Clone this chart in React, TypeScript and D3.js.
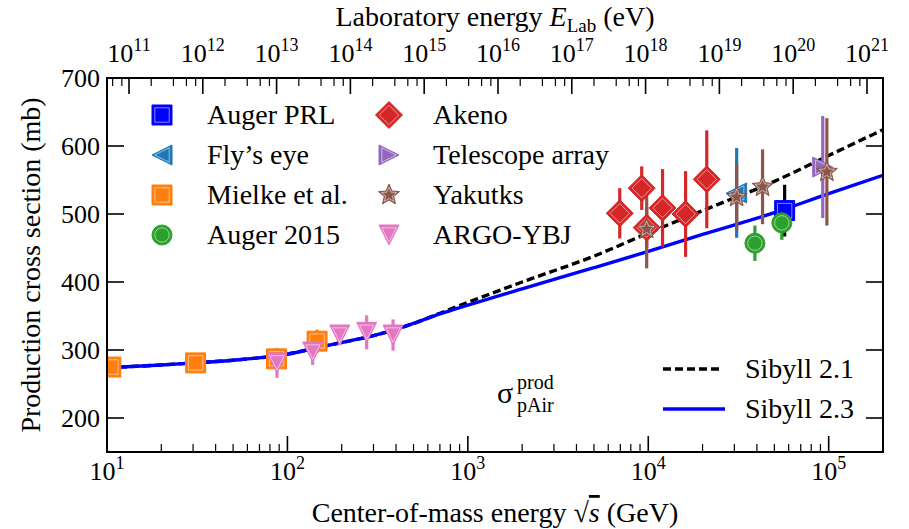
import React from 'react';
import * as d3 from 'd3';

// Sibyll model curves: sqrt(s) in GeV, production cross section in mb
const modelEnergy = [10, 20, 30, 50, 100, 150, 200, 300, 500, 700, 1000, 2000, 5000, 1e4, 2e4, 5e4, 1e5, 2e5];
const sibyll21 = [274, 278, 281, 285, 294, 304, 311, 321, 339, 354, 370, 400, 438, 472, 505, 548, 586, 624];
const sibyll23 = [274, 278, 281, 285, 294, 304, 311, 321, 339, 353, 366, 390, 421, 445, 470, 502, 530, 557];

// measurements: [sqrt(s) GeV, sigma mb, error mb]
const augerPRL = [[57000, 505, 38]];
const flysEye = [[30900, 531, 66]];
const mielke = [[10.5, 275, 5], [31, 281, 5], [87, 287, 5], [146, 313, 17]];
const auger2015 = [[39000, 457, 26], [55000, 487, 25]];
const akeno = [[6950, 501, 37], [9200, 538, 32], [9800, 480, 30], [12000, 509, 57], [16100, 500, 63], [21100, 551, 72]];
const telescopeArray = [[92700, 569, 75]];
const yakutsk = [[9800, 478, 58], [30900, 525, 49], [43000, 540, 55], [97700, 562, 79]];
const argoYBJ = [[87.5, 281, 22], [138, 297, 19], [195, 322, 15], [275, 326, 25], [385, 322, 23]];

const yTicks = [200, 300, 400, 500, 600, 700];
const bottomDecades = [1, 2, 3, 4, 5];
const topDecades = [11, 12, 13, 14, 15, 16, 17, 18, 19, 20, 21];

const W = 909;
const H = 529;
const M = { left: 107, right: 883, top: 78, bottom: 452 };
const FONT = "'Liberation Serif', 'DejaVu Serif', serif";

const series = [
  { name: 'Auger PRL', data: augerPRL, color: '#0000ff', bar: '#000000', shape: 'square', r: 10 },
  { name: 'Fly\u2019s eye', data: flysEye, color: '#1f77b4', bar: '#1f77b4', shape: 'tri-left', r: 10 },
  { name: 'Mielke et al.', data: mielke, color: '#ff7f0e', bar: '#ff7f0e', shape: 'square', r: 10 },
  { name: 'Auger 2015', data: auger2015, color: '#2ca02c', bar: '#2ca02c', shape: 'circle', r: 10 },
  { name: 'Akeno', data: akeno, color: '#d62728', bar: '#d62728', shape: 'diamond', r: 13.5 },
  { name: 'Telescope array', data: telescopeArray, color: '#9467bd', bar: '#9467bd', shape: 'tri-right', r: 10 },
  { name: 'Yakutks', data: yakutsk, color: '#8c564b', bar: '#8c564b', shape: 'star', r: 11 },
  { name: 'ARGO-YBJ', data: argoYBJ, color: '#e377c2', bar: '#e377c2', shape: 'tri-down', r: 10 },
];

function markerPath(shape: string, r: number): string {
  switch (shape) {
    case 'square':
      return `M${-r},${-r}H${r}V${r}H${-r}Z`;
    case 'diamond':
      return `M0,${-r}L${r},0L0,${r}L${-r},0Z`;
    case 'circle':
      return `M${r},0A${r},${r} 0 1,1 ${-r},0A${r},${r} 0 1,1 ${r},0Z`;
    case 'tri-down':
      return `M${-r},${-r}L${r},${-r}L0,${r}Z`;
    case 'tri-left':
      return `M${-r},0L${r},${-r}L${r},${r}Z`;
    case 'tri-right':
      return `M${r},0L${-r},${-r}L${-r},${r}Z`;
    case 'star': {
      const pts: string[] = [];
      for (let i = 0; i < 10; i++) {
        const a = -Math.PI / 2 + (i * Math.PI) / 5;
        const rr = i % 2 ? r * 0.45 : r;
        pts.push(`${(rr * Math.cos(a)).toFixed(2)},${(rr * Math.sin(a)).toFixed(2)}`);
      }
      return 'M' + pts.join('L') + 'Z';
    }
    default:
      return '';
  }
}

const Marker = ({ x, y, shape, r, color }: { x: number; y: number; shape: string; r: number; color: string }) => (
  <g transform={`translate(${x},${y})`}>
    <path d={markerPath(shape, r)} fill={color} stroke={color} strokeWidth={1} />
    <path d={markerPath(shape, r * 0.72)} fill="none" stroke="#fff" strokeWidth={0.7} strokeOpacity={0.75} />
  </g>
);

const Pow = ({ x, y, exp }: { x: number; y: number; exp: number }) => (
  <text x={x} y={y} textAnchor="middle" fontSize={26} style={{ fontFamily: FONT }} fill="#000">
    10<tspan fontSize={18} dy={-11}>{exp}</tspan>
  </text>
);

export default function App() {
  const x = d3.scaleLog().domain([10, 2e5]).range([M.left, M.right]);
  const y = d3.scaleLinear().domain([150, 700]).range([M.bottom, M.top]);
  const xTop = d3.scaleLog().domain([10 ** 10.702, 10 ** 21.217]).range([M.left, M.right]);

  const line = d3
    .line<number>()
    .x((_, i) => x(modelEnergy[i]))
    .y((d) => y(d))
    .curve(d3.curveMonotoneX);

  const bottomMinor: number[] = [];
  for (let d = 1; d <= 5; d++) for (let k = 2; k <= 9; k++) {
    const v = k * 10 ** d;
    if (v <= 2e5) bottomMinor.push(v);
  }
  const topMinor: number[] = [];
  for (let d = 10; d <= 21; d++) for (const k of [2, 4, 6, 8]) {
    const v = Math.log10(k) + d;
    if (v >= 10.702 && v <= 21.217) topMinor.push(v);
  }

  const legendRows = [115, 155, 195, 235];
  const txt = { fontFamily: FONT };

  return (
    <svg width={W} height={H} style={{ position: 'absolute', left: 0, top: 0, fontFamily: FONT }}>
      <rect width={W} height={H} fill="#fff" />
      <defs>
        <clipPath id="plot">
          <rect x={M.left} y={M.top} width={M.right - M.left} height={M.bottom - M.top} />
        </clipPath>
      </defs>

      {/* model lines */}
      <g clipPath="url(#plot)">
        <path d={line(sibyll21) || ''} fill="none" stroke="#000" strokeWidth={3.4} strokeDasharray="8,4" />
        <path d={line(sibyll23) || ''} fill="none" stroke="#0000ff" strokeWidth={3.4} />
      </g>

      {/* data */}
      <g clipPath="url(#plot)">
        {series.map((s) =>
          s.data.map((p, i) => (
            <line key={s.name + 'e' + i} x1={x(p[0])} x2={x(p[0])} y1={y(p[1] - p[2])} y2={y(p[1] + p[2])}
              stroke={s.bar} strokeWidth={3.2} />
          ))
        )}
        {series.map((s) =>
          s.data.map((p, i) => (
            <Marker key={s.name + 'm' + i} x={x(p[0])} y={y(p[1])} shape={s.shape} r={s.r} color={s.color} />
          ))
        )}
      </g>

      {/* frame */}
      <rect x={M.left} y={M.top} width={M.right - M.left} height={M.bottom - M.top} fill="none" stroke="#000" strokeWidth={2} />

      {/* bottom ticks */}
      {bottomDecades.map((d) => (
        <g key={'bx' + d}>
          <line x1={x(10 ** d)} x2={x(10 ** d)} y1={M.bottom} y2={M.bottom - 16} stroke="#000" strokeWidth={1.6} />
          <Pow x={x(10 ** d)} y={480} exp={d} />
        </g>
      ))}
      {bottomMinor.map((v) => (
        <line key={'bm' + v} x1={x(v)} x2={x(v)} y1={M.bottom} y2={M.bottom - 8} stroke="#000" strokeWidth={1.2} />
      ))}

      {/* top ticks */}
      {topDecades.map((d) => (
        <g key={'tx' + d}>
          <line x1={xTop(10 ** d)} x2={xTop(10 ** d)} y1={M.top} y2={M.top + 16} stroke="#000" strokeWidth={1.6} />
          <Pow x={xTop(10 ** d)} y={62} exp={d} />
        </g>
      ))}
      {topMinor.map((v) => (
        <line key={'tm' + v} x1={xTop(10 ** v)} x2={xTop(10 ** v)} y1={M.top} y2={M.top + 8} stroke="#000" strokeWidth={1.2} />
      ))}

      {/* y ticks */}
      {yTicks.map((t) => (
        <g key={'y' + t}>
          <line x1={M.left} x2={M.left + 17} y1={y(t)} y2={y(t)} stroke="#000" strokeWidth={1.6} />
          <line x1={M.right} x2={M.right - 17} y1={y(t)} y2={y(t)} stroke="#000" strokeWidth={1.6} />
          <text x={100} y={y(t) + 9} textAnchor="end" fontSize={26} style={txt} fill="#000">{t}</text>
        </g>
      ))}

      {/* axis titles */}
      <text x={(M.left + M.right) / 2} y={26} textAnchor="middle" fontSize={28} style={txt} fill="#000">
        Laboratory energy <tspan fontStyle="italic">E</tspan>
        <tspan fontSize={19} dy={6}>Lab</tspan>
        <tspan dy={-6}> (eV)</tspan>
      </text>
      <text x={(M.left + M.right) / 2} y={522} textAnchor="middle" fontSize={28} style={txt} fill="#000">
        Center-of-mass energy {'\u221A'}<tspan fontStyle="italic" textDecoration="overline">s</tspan> (GeV)
      </text>
      <text transform={`translate(40,${(M.top + M.bottom) / 2}) rotate(-90)`} textAnchor="middle" fontSize={28} style={txt} fill="#000">
        Production cross section (mb)
      </text>

      {/* legend, markers */}
      {series.map((s, i) => {
        const col = i < 4 ? 0 : 1;
        const row = legendRows[i % 4];
        const mx = col === 0 ? 162 : 389;
        const tx = col === 0 ? 207 : 433;
        return (
          <g key={'lg' + s.name}>
            <Marker x={mx} y={row} shape={s.shape} r={s.r} color={s.color} />
            <text x={tx} y={row + 9} fontSize={28} style={txt} fill="#000">{s.name}</text>
          </g>
        );
      })}

      {/* legend, models */}
      <line x1={663} x2={722} y1={369} y2={369} stroke="#000" strokeWidth={3.4} strokeDasharray="8,4" />
      <text x={745} y={378} fontSize={28} style={txt} fill="#000">Sibyll 2.1</text>
      <line x1={663} x2={725} y1={409} y2={409} stroke="#0000ff" strokeWidth={3.4} />
      <text x={745} y={418} fontSize={28} style={txt} fill="#000">Sibyll 2.3</text>

      {/* sigma label */}
      <text x={497} y={403} fontSize={30} style={txt} fill="#000">{'\u03C3'}</text>
      <text x={517} y={389} fontSize={20} style={txt} fill="#000">prod</text>
      <text x={517} y={412} fontSize={20} style={txt} fill="#000">pAir</text>
    </svg>
  );
}
